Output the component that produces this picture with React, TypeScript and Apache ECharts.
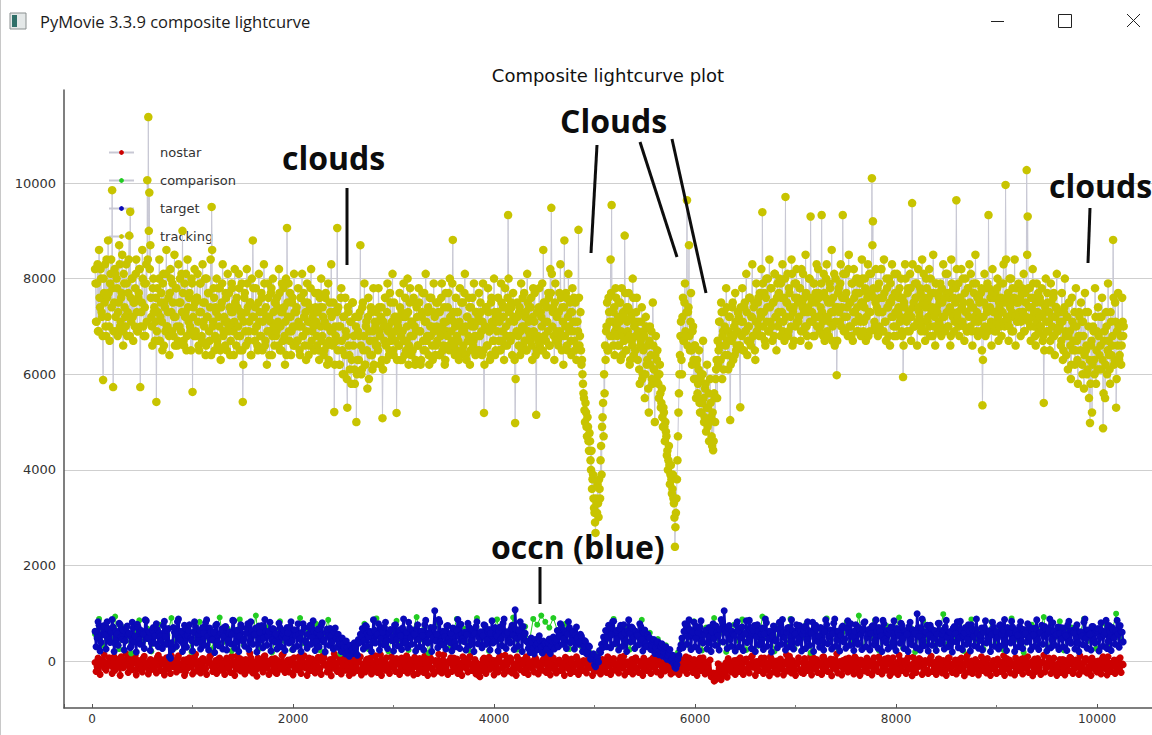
import React, { useEffect, useRef } from 'react';
import * as echarts from 'echarts';

// ---- data (frame numbers are evenly spaced) ----
// tracking star: readings at frames 30, 40, 50 ... and in-between readings at 35, 45, 55 ...
const trackingStartFrame = 30;
const trackingFrameStep = 10;
const tracking = [
  8200,7100,7900,6900,8600,7400,8000,7200,5880,7700,8300,6800,7600,8800,7000,7900,8400,9850,5730,7500,
  8100,6900,7800,7300,8700,7000,7600,8500,6600,7900,7200,8300,6800,7700,8900,9400,7100,8000,6700,7500,
  7800,8400,6900,7600,8200,5730,7300,8600,7000,7900,6800,8300,10060,11380,9800,8700,7200,6600,8000,7400,
  7100,5420,7800,6700,8400,7200,7700,6500,8100,7500,6900,8600,7000,7600,6400,8200,7300,7900,6800,8500,
  7200,7800,6600,8300,7000,7500,8100,9000,6700,7900,7300,6500,8400,7100,7700,6900,8000,5630,7400,8200,
  6900,7600,8100,6600,7300,7900,6800,8300,7100,7500,6400,8000,7200,7700,6700,8400,9500,7000,7800,6500,
  7400,8000,6600,7200,7800,6300,7500,8300,6900,7100,7700,6500,8100,7000,7400,6700,7900,7300,6400,8200,
  7000,7600,6800,8100,6500,7300,7900,5420,7100,7700,6600,8200,7400,6900,7500,6400,8000,8800,7200,6700,
  7800,7000,6500,8100,7300,6800,7600,7100,8300,6600,7400,6200,7900,7200,6900,7700,6400,8000,7000,7500,
  6800,7600,7100,8200,6500,7300,7900,6700,7400,6200,8000,9060,7200,6900,7700,6400,7500,7000,8100,6600,
  7300,6700,7800,7000,6400,7600,8100,6800,7200,7500,6300,7900,7100,6600,7400,8200,6900,7300,6500,7700,
  7100,6600,7700,6300,7400,8000,6800,7200,6500,7600,7000,6200,7900,6700,7300,8300,6900,7500,5210,7000,
  6700,9060,7400,6200,7000,7800,6500,7200,6000,7600,6800,5300,7300,6400,7100,5800,7500,6600,6100,7200,
  5000,6300,7200,6800,8700,6000,7400,6500,7900,6200,7100,5700,7600,6900,6400,7300,6100,7800,6700,7000,
  7300,6600,7800,6900,6200,7400,5080,7100,6700,7600,6300,7900,7000,6500,7500,6800,8100,6400,7200,6700,
  5190,7100,6600,7700,6300,7300,6900,7900,6400,7200,6700,8000,6200,7500,6800,7100,6500,7600,7000,6300,
  7400,6600,7800,6900,6200,7200,7700,6500,7100,8100,6700,7300,6400,7600,6800,7000,6300,7900,7200,6600,
  7000,7500,6400,7300,6800,7900,6500,7100,6200,7700,6900,7400,6600,8000,7200,6700,8810,7100,6400,7600,
  6800,7300,6300,7800,7000,6500,7500,6900,8100,6400,7200,6700,7600,6200,7400,7000,6600,7900,6800,7300,
  7100,6500,7700,6800,7300,6400,7900,5190,7000,7400,6600,7800,6900,6300,7500,7100,6700,8000,6400,7200,
  6900,7600,6500,7200,7900,6700,7400,6300,7800,7000,6600,9330,7300,6800,7500,6400,7700,7100,4980,7200,
  7500,6800,7300,6400,7900,7000,6600,7700,7200,6500,8100,6900,7400,6700,7600,6300,7800,7100,6800,5150,
  7300,6700,7800,6500,7200,7900,8600,6800,7500,6400,7100,7700,6600,8200,9480,7000,7400,6300,7900,6900,
  7200,6600,7700,8300,6800,7400,6200,8800,7000,7600,6500,8100,6900,7300,6400,7800,7100,6700,7500,6300,
  7100,9020,6600,7300,6200,6000,5600,5250,5400,4900,5100,4600,4770,4200,4400,3800,3400,3100,2680,3300,
  3700,3010,3600,4200,3900,5100,4700,5600,6300,7000,6500,7600,7100,8400,9540,6800,7300,6400,7800,7000,
  6600,7500,7100,6300,7800,6800,7200,8900,6500,7400,6900,7700,6200,7300,6700,8000,6400,7100,6800,7600,
  6300,7100,5800,6700,7400,6000,6900,5500,7200,6200,6600,5200,7000,6400,5900,7500,6100,5000,6800,6300,
  6000,5500,6200,5300,5700,4900,5200,4600,4800,4300,4000,4500,3700,4100,3500,3900,3300,2390,3100,3800,
  4700,5600,6400,7100,6000,7600,6700,7900,6800,9640,7300,8700,6500,7700,6200,7000,5900,6600,5500,6300,
  5800,6500,5200,6000,5400,6700,5000,5700,4800,6200,5300,4600,5900,5100,4500,4410,5600,5000,6100,5500,
  6200,7100,6600,7500,5900,6900,7300,6400,7800,6700,6100,7200,5040,6800,7400,6300,7000,7700,6500,6900,
  7300,6600,5310,7100,7800,6500,7400,6900,8100,6400,7000,7600,6700,7200,8300,6800,7500,6300,7900,7100,
  7600,6800,7300,8200,9390,7000,7700,6600,8000,7400,6900,8400,7100,7800,6700,7500,8100,7200,6500,7900,
  7300,8000,6800,7600,8300,7100,6700,9710,7500,8100,6900,7700,7200,8400,6600,7400,7900,7000,8200,7600,
  7100,7800,6700,8200,7400,6900,7600,8500,7000,7300,6600,8000,9300,7500,7100,7900,6800,7700,8300,7200,
  7700,6900,7400,9330,7100,8100,6700,7600,8300,7200,6800,7900,7500,8600,7000,7300,6600,8000,5980,7400,
  7800,7100,8300,7400,9330,6900,7600,8100,7200,6800,8500,7500,7000,7900,6700,8200,7300,7700,6900,8000,
  7200,7900,6800,8400,7500,7100,8000,6700,7700,8300,7300,6900,8100,10100,9200,7600,7000,8200,7400,6800,
  7900,7300,8200,6900,7600,8400,7100,6700,7800,7400,8000,6600,7500,8300,7200,6800,7700,7000,8100,7300,
  7600,7100,8000,6800,5940,7500,8300,7200,6900,7800,7300,8100,6700,9580,7400,7000,7900,7600,6600,8200,
  7300,7800,6900,8400,7100,7600,6700,8000,7500,7200,8200,6800,7700,7400,8500,7000,6600,7900,7300,7700,
  7100,7900,6800,7500,8300,7200,6900,7700,8100,7000,7600,6600,8400,7300,7800,6900,7500,9640,7200,7900,
  6800,7600,8200,7100,7500,6700,8000,7300,6900,7800,8300,7000,7400,6600,7900,7200,8500,6900,7600,7100,
  7500,6900,7800,5350,7200,8100,6800,7400,7900,9330,7000,7600,6600,8200,7300,6900,7700,7100,8000,6700,
  7400,7900,6800,7300,8300,7000,9960,7600,7100,6700,8000,7500,6900,7800,7200,8400,6600,7500,7100,7900,
  7200,6800,7700,7300,8100,6900,7500,10270,9300,7100,7800,6700,7400,8200,7000,7600,6600,7900,7300,6900,
  7600,7000,7800,6700,5400,7300,8000,6900,7500,7100,6500,7900,7200,6800,7700,6400,7400,8100,6900,7300,
  7100,6600,7700,6300,7300,8000,6800,7200,6100,7500,6900,5900,7600,6500,7000,6200,7800,6700,5800,7300,
  6800,7500,6200,7100,5700,7700,6500,6000,7300,5500,4980,6600,5200,7000,6300,7800,5800,6900,7400,6100,
  7200,6100,7600,4870,6700,5500,7300,6000,7900,6400,5800,7100,6600,8810,6200,7500,5300,6900,7700,6300,
  7000,6200,7600,6800,
];
const trackingMidStartFrame = 35;
const trackingMid = [
  7900,7100,8300,6900,7600,8200,7300,6800,8000,7500,7000,8400,7200,7700,6700,8100,7400,7800,6900,8200,
  7200,8000,6800,7500,8300,7100,7700,6900,8100,7400,7000,7900,7300,8400,6800,7600,8000,7200,7500,7000,
  8100,7300,6900,7700,8200,7000,7500,8000,6800,7400,7900,7100,8400,9000,8200,7600,7000,7800,7300,6700,
  7600,6900,7300,8000,6700,7500,7100,7900,6600,7400,8100,7000,7300,6800,7700,8000,6900,7500,7200,6600,
  7800,7000,6700,7500,8000,6900,7300,7700,6600,7200,8100,6800,7400,7600,7000,6500,7900,7200,6800,7500,
  6800,7600,7100,6500,7900,7300,6700,7500,7000,8000,6600,7200,7700,6900,7400,6400,8600,7100,7600,6800,
  7300,6700,7800,7000,6500,7400,7900,6800,7200,6600,7600,7100,6900,7700,6400,7300,7800,6900,7100,7500,
  6600,7400,7000,7800,6800,7200,6500,6200,7600,6900,7300,7900,6700,7100,7500,6400,7200,7800,6900,7400,
  7000,6600,7500,7100,6800,7700,6500,7300,7900,6700,7200,6900,7600,6400,7100,7800,6800,7300,6600,7500,
  6900,7400,6600,7700,7000,6500,7300,7800,6800,7100,6400,7500,7900,6700,7200,6900,7600,6600,7300,7000,
  7400,6700,7100,6500,7600,7000,6800,7700,6600,7300,6900,7500,6400,7100,7800,6700,7200,7000,6500,7400,
  6800,7300,6500,7600,7000,6700,7400,6400,7100,7700,6600,7000,6300,7500,6900,7200,6600,7300,6200,6800,
  7300,6500,7000,6200,7600,6700,6000,7200,6400,6900,5900,7400,6600,6100,7100,6300,7500,6800,5800,7000,
  6000,6900,6300,7300,6600,6100,7500,6800,6200,7000,6500,7200,5900,6700,7400,6400,6900,6200,7100,6600,
  7100,6500,7400,6800,7200,6300,6100,7000,7600,6600,7300,6900,6400,7700,6700,7100,6500,7500,6900,7200,
  6300,7000,6600,7400,6800,6300,7200,6700,7600,6500,7000,7300,6600,7800,6400,7100,6800,7500,6200,6900,
  7200,6600,7500,6900,6300,7300,6700,7700,6500,7100,6800,7400,6200,7000,7600,6600,7300,6900,6400,7500,
  6700,7300,6900,6400,7600,7000,6600,7400,6300,7100,6800,7700,6500,7200,6900,7900,7300,6600,7000,6500,
  7300,6700,7100,6400,7500,6900,6600,7700,7000,6300,7200,6800,7400,6500,7100,7600,6700,7000,6400,7300,
  6800,7200,6500,7500,6900,7100,6500,6200,7000,7400,6600,7300,6900,6400,7600,7000,6700,7300,6500,7100,
  7300,6700,7100,6500,7500,6900,7200,6600,7400,6800,7600,8000,7100,6700,7400,6800,7200,6300,5900,6900,
  7200,6600,7400,6900,6500,7600,7000,6700,7300,6500,7500,7100,6800,7400,6600,7200,6900,7700,6400,6500,
  6800,7400,6600,7300,7000,6500,7500,7100,6700,7400,6900,7600,6600,7700,8100,7300,6800,7500,6700,7200,
  6700,7300,6900,7600,6500,7100,7400,6800,7700,6600,7200,7000,7500,6700,7300,6900,7600,6500,7100,6600,
  6900,7600,6800,6500,6300,5800,5500,5000,5200,4700,4900,4400,4600,4000,3600,3900,3200,2900,3400,3100,
  3300,3800,3400,4500,4900,5400,6000,6600,6900,7500,6500,7300,6800,7700,7100,6600,7400,6900,7600,6800,
  7200,6600,7500,6900,6400,7300,6700,7700,6500,7100,7400,6800,6300,7200,6600,7600,7000,6500,7300,6800,
  6900,6100,6600,7100,5900,6500,6800,6000,7000,6300,5700,6700,6200,6900,5800,6600,6100,6400,5900,6500,
  5800,6000,5600,5400,5100,5300,4900,5000,4700,4400,4200,4100,3900,3800,3600,3400,3000,2800,3400,4200,
  5200,6000,6800,6300,7200,6700,7500,6900,7300,6600,7400,6800,7100,6500,6900,6300,6600,5900,6200,5600,
  6100,5400,5900,5200,6000,5500,5100,5800,5300,4900,5600,5000,5400,4700,5200,4600,5500,5900,6300,6700,
  6500,7100,6300,7300,6800,6100,7000,6600,7400,6400,6900,7200,6200,6700,7500,6800,6400,7100,6600,7300,
  7200,6600,7400,6800,7100,6500,7500,6900,7300,6700,7000,7600,6600,7200,6800,7400,6500,7100,6900,7500,
  7000,7700,7200,6800,7900,7300,6700,7600,7100,8000,6900,7400,7800,7000,7500,6800,8100,7200,7600,7000,
  7700,7100,7900,7300,6900,7600,8000,7200,7500,6800,7800,7400,7000,8100,7300,6700,7600,7900,7100,7500,
  7200,7800,6900,7500,8100,7300,7000,7700,6800,7400,8000,7100,7600,7300,6800,7900,7200,7500,7000,8200,
  7600,7000,7900,7300,6800,7700,7200,8000,6900,7500,7100,7800,7300,6700,7600,8100,7100,7400,6700,7700,
  7300,7900,7000,7600,8100,7200,6900,7700,7400,8200,7000,7500,6800,7900,7300,7600,7100,8000,7400,6900,
  7700,7100,7500,8000,6900,7400,7800,7200,7600,6800,8100,7300,7700,8700,7800,7100,7500,6900,7800,7300,
  7000,7600,8200,7300,6900,7700,7100,8000,7400,6800,7500,7900,7200,7600,7000,8100,7300,6800,7700,7400,
  7800,7200,6900,7600,6600,7400,8000,7100,7700,7300,6900,7800,7200,8300,7500,7000,7600,7900,7100,7400,
  7200,7700,7000,7500,8100,6900,7400,7800,7100,7600,7000,8000,7300,6800,7700,7200,7900,7400,6900,7600,
  7500,7000,7800,7200,6900,7600,8100,7300,7000,7700,7400,6800,7900,7200,7600,7100,7800,8200,7300,7000,
  7600,7100,7400,8000,7000,7700,7300,6900,7800,7200,7500,8100,6900,7400,7700,7100,7900,7300,6800,7600,
  7200,7700,6500,6300,7500,7000,7800,7300,6900,7800,7400,7100,7700,7000,7600,7300,6900,7800,7200,7500,
  7000,7600,7300,7900,7100,7500,8400,7200,7700,7000,7400,8000,7300,6900,7600,7200,7800,7100,7500,7300,
  7600,7100,7800,7300,6900,7700,7200,8500,7800,7400,7000,7600,7200,7900,7300,6800,7500,7100,7700,7200,
  7000,7500,7200,6800,6500,7400,7100,7700,6900,7300,6700,7500,7000,7600,6800,7200,7400,6900,7300,7000,
  7300,6700,7100,6500,7400,6900,6400,7200,6800,7500,6600,6200,7100,6700,7300,6500,7000,6300,6800,7200,
  6500,7100,6000,6800,6400,7300,6600,6100,7000,6300,5800,6700,6200,6900,6000,7200,6500,6100,6800,6400,
  6600,7200,6300,5600,6900,6200,7000,6500,6700,6100,7300,6400,6800,7600,6300,7100,5900,6600,7000,6400,
  6800,6600,7100,7000,
];

// target star: readings at frames 30, 50, 70 ... and at 40, 60, 80 ...
const targetStartFrame = 30;
const targetFrameStep = 20;
const target = [
  620,480,750,390,680,540,820,450,600,710,360,570,790,500,650,420,730,580,310,690,520,770,440,640,560,860,470,610,380,700,530,660,
  590,420,740,510,650,90,380,700,560,820,460,620,350,680,540,760,430,600,710,490,640,370,580,800,520,690,450,610,740,400,560,670,
  500,720,430,610,560,840,390,650,520,700,460,580,780,410,630,550,690,360,600,740,480,620,530,810,440,660,570,380,700,510,640,470,
  590,710,420,650,530,780,460,600,690,380,560,750,490,620,410,670,540,800,450,590,520,680,400,610,470,560,350,480,280,420,200,330,
  250,380,150,450,560,680,430,720,510,600,390,650,540,780,470,610,700,420,580,660,500,750,440,620,530,690,370,600,810,480,640,560,
  680,450,610,530,760,420,590,700,480,1050,560,870,400,620,510,730,460,580,690,390,640,520,770,470,600,550,710,430,660,580,820,490,
  610,530,740,440,660,580,380,700,520,640,460,790,560,610,420,680,540,1070,470,630,510,720,580,400,330,480,260,450,370,530,300,420,
  380,250,460,320,500,410,640,520,730,460,600,560,700,430,620,540,480,390,520,300,410,200,300,60,150,-120,80,220,350,500,640,480,
  720,550,830,610,470,680,540,760,420,640,580,710,490,620,530,780,450,600,370,560,480,330,450,290,400,220,360,190,300,120,240,60,
  -60,-150,40,250,480,620,740,510,660,550,810,470,600,700,430,580,650,380,520,610,470,730,540,660,820,1050,590,690,450,620,540,760,
  630,480,710,560,840,420,650,590,740,500,620,380,690,570,800,460,610,530,720,440,660,580,870,490,600,700,410,640,550,760,470,620,
  560,720,450,640,590,810,480,670,530,700,420,610,760,500,650,570,880,440,620,540,730,460,680,590,780,510,630,400,700,560,650,820,
  490,660,580,740,430,620,700,520,850,460,640,570,710,400,600,680,530,790,470,630,560,720,440,650,590,990,510,690,420,610,750,540,
  680,470,620,560,790,440,650,710,500,610,380,690,570,820,480,640,530,700,450,620,760,510,660,580,430,690,600,840,470,630,550,710,
  620,480,740,560,650,420,700,590,830,460,610,540,720,400,660,580,780,490,630,550,690,440,600,750,520,670,570,880,450,620,530,710,
  580,460,690,530,760,420,640,590,700,380,610,520,810,470,650,560,720,440,600,680,490,630,550,850,410,620,700,480,640,560,740,600,
];
const targetMidStartFrame = 40;
const targetMid = [
  300,820,210,560,740,250,680,390,870,200,620,330,760,450,230,690,540,280,810,400,190,700,350,590,260,840,480,220,650,370,780,300,
  520,260,830,350,680,60,240,600,310,880,420,200,750,290,640,470,210,820,380,560,250,700,330,860,230,610,440,180,770,320,590,250,
  710,230,580,360,850,270,640,200,760,420,310,690,240,820,350,560,190,730,450,280,870,330,620,210,680,400,250,790,300,570,220,700,
  380,820,240,650,310,560,200,780,430,270,710,350,840,220,600,300,740,410,190,670,330,520,250,690,290,450,200,360,150,280,100,220,
  160,300,120,380,520,250,740,310,620,200,860,380,560,230,700,340,810,260,590,430,210,760,320,650,240,880,400,280,690,350,570,210,
  760,300,620,230,850,380,550,200,700,420,280,810,340,600,250,740,390,210,680,300,870,260,560,410,230,790,330,640,200,720,360,590,
  280,760,350,620,230,840,400,560,210,710,320,880,260,600,380,750,240,660,310,820,200,540,420,260,180,390,150,330,240,420,170,350,
  230,380,160,410,250,450,300,780,350,640,260,820,380,600,250,710,350,560,200,430,150,320,40,100,-80,0,-20,180,280,420,300,750,
  280,820,360,640,230,750,310,590,200,860,400,680,260,560,340,720,210,650,300,490,240,420,160,380,130,300,100,250,40,180,0,120,
  -130,-80,120,340,280,780,350,860,240,600,300,720,220,840,380,560,250,700,200,780,330,600,230,870,400,650,260,740,310,560,210,820,
  300,700,220,580,390,850,260,640,200,760,340,560,240,880,310,620,190,730,420,280,810,350,600,230,690,300,860,250,570,380,740,210,
  640,260,820,330,580,200,750,410,290,680,230,860,360,540,250,790,310,620,210,700,400,270,840,330,590,220,760,350,640,240,800,300,
  580,230,720,340,860,270,610,200,780,390,250,660,310,840,220,590,370,740,260,630,200,810,340,560,280,700,230,880,320,600,210,750,
  330,640,220,790,360,560,250,850,300,610,190,720,400,280,830,240,590,350,760,210,660,320,880,270,540,230,700,380,620,200,810,310,
  600,250,760,330,870,220,580,380,710,200,640,300,820,260,550,400,740,230,680,310,860,240,590,350,720,210,630,280,800,330,560,240,
  700,300,580,220,830,370,640,250,760,200,600,340,880,270,560,230,720,380,640,210,800,310,590,260,740,220,660,350,850,290,610,400,
];

// no-star background: readings at frames 30, 50 ... and at 40, 60 ...
const nostarStartFrame = 30;
const nostarFrameStep = 20;
const nostar = [
  -30,-120,40,-80,10,-160,-50,70,-100,-20,-190,30,-70,90,-140,-10,-60,50,-110,-40,120,-170,0,-90,60,-130,-30,-210,20,-80,-50,80,
  -100,30,-60,-180,10,-40,110,-120,-20,50,-150,-70,20,-230,-10,70,-90,-50,140,-130,0,-80,40,-160,-30,90,-110,-60,10,-200,60,-40,
  -70,20,-140,-30,100,-90,-10,-170,50,-60,-120,30,-40,160,-100,-20,-190,60,-80,-30,90,-150,0,-60,40,-110,-250,10,-70,120,-40,-130,
  20,-90,-30,70,-160,-50,10,-120,110,-70,-20,-200,40,-100,-40,80,-140,-10,60,-80,-180,30,-60,150,-110,-30,0,-150,50,-90,-20,-240,
  -60,40,-130,-20,90,-170,-50,20,-100,60,-80,-210,10,-40,130,-120,-30,70,-160,-70,0,-110,50,-50,-190,30,-90,110,-140,-10,-60,80,
  -120,10,-70,-30,100,-150,-40,50,-190,-10,-80,140,-110,20,-60,-220,0,70,-100,-30,40,-170,-50,90,-130,-20,60,-80,-160,30,-40,-310,
  -70,30,-140,-20,80,-100,-50,10,-180,60,-30,-120,120,-80,-10,40,-160,-60,90,-110,-30,20,-200,50,-70,-130,0,70,-90,-40,-170,30,
  -50,110,-140,-20,60,-100,-60,20,-180,-30,80,-120,-10,40,-160,-70,30,-90,-200,10,-50,-140,-20,-100,40,-180,-60,-120,20,-80,-30,90,
  -110,-30,50,-160,-60,20,-120,100,-80,-20,-190,30,-50,70,-140,-10,-90,60,-170,-40,10,-110,-60,-210,40,-80,-30,-150,0,-100,-50,-230,
  -60,-170,-20,40,-110,-50,90,-140,-10,-80,30,-190,-40,60,-120,0,-70,-160,20,-300,-420,-250,-60,-360,-100,-280,-30,50,-130,-70,10,-180,
  -40,70,-120,-20,40,-170,-60,110,-90,-10,-200,20,-70,60,-140,-30,90,-100,-50,0,-180,40,-80,-20,130,-150,-60,10,-110,-40,70,-190,
  -30,50,-130,-70,100,-10,-160,30,-90,-50,80,-200,0,-60,40,-120,-20,150,-100,-40,10,-170,-80,60,-130,-10,90,-60,-220,20,-90,-30,
  60,-110,-40,20,-180,-70,90,-20,-140,40,-60,-10,-200,70,-90,-30,120,-150,0,-50,30,-120,-80,80,-170,-20,50,-100,-60,10,-190,-40,
  100,-80,-20,-150,40,-60,10,-210,-30,70,-110,-50,20,-170,-10,60,-90,-40,130,-130,0,-70,30,-190,-50,90,-100,-20,50,-160,-60,10,
  -120,40,-70,-20,110,-150,-40,20,-100,-60,70,-180,-10,40,-130,-50,90,-90,-30,10,-220,50,-70,-20,120,-140,-40,0,-110,60,-80,-170,
  30,-60,-130,10,-90,80,-40,-180,20,-70,110,-120,-30,50,-160,-10,60,-100,-50,0,-200,40,-80,-20,90,-140,-50,20,-110,-30,70,-60,
];
const nostarMidStartFrame = 40;
const nostarMid = [
  -220,60,-280,-40,130,-190,-90,20,-260,90,-150,-20,-300,40,-110,150,-240,-60,-180,70,-290,10,-130,-230,100,-80,-270,30,-170,-10,-250,120,
  -200,-40,-290,70,-150,-260,20,-110,-230,110,-180,-60,-300,30,-140,-20,-270,80,-210,-100,-250,50,-160,-280,-30,120,-220,-120,-260,40,-190,-70,
  -280,60,-170,-240,-30,-300,100,-130,-210,20,-270,-80,-190,70,-250,-40,-320,30,-150,-230,110,-110,-280,-10,-200,50,-260,-90,-170,140,-240,-50,
  -230,30,-290,-70,-180,90,-260,-20,-140,-300,60,-200,-110,-250,10,-170,-280,120,-90,-230,-40,-310,40,-160,-220,80,-270,-60,-190,-10,-300,20,
  -250,-30,-200,70,-290,-120,-230,40,-170,-270,-50,110,-240,-140,-300,20,-190,-80,-260,90,-150,-220,-10,-280,60,-200,-110,-250,30,-170,-290,-40,
  -260,50,-180,-240,-20,-300,80,-150,-270,10,-210,-90,-250,130,-160,-280,-30,-220,60,-190,-260,-70,-300,20,-140,-230,100,-200,-50,-270,-120,-330,
  -200,60,-260,-90,-170,20,-290,-40,-230,110,-150,-270,-10,-210,70,-250,-130,-300,40,-180,-60,-240,90,-280,-20,-160,-230,30,-270,-100,-190,50,
  -240,-20,-290,70,-170,-250,10,-200,-120,-300,50,-160,-260,-40,-220,90,-280,-70,-190,-10,-250,40,-140,-300,-60,-210,-110,-270,30,-180,-240,60,
  -280,30,-190,-60,-250,80,-150,-290,-20,-220,-110,-270,50,-170,-240,-40,-300,20,-200,-90,-260,60,-140,-230,-10,-290,-70,-210,40,-180,-270,-120,
  -230,-120,-280,30,-190,-50,-260,60,-150,-240,10,-300,-80,-200,70,-270,-30,-220,-330,-250,-400,-310,-150,-390,-260,-200,-340,-40,-230,-100,-280,20,
  -220,-70,-280,30,-170,-250,80,-130,-300,-20,-200,60,-260,-90,-180,-310,40,-230,-120,-270,10,-160,-290,-50,-210,100,-250,-140,-300,-30,-190,-240,
  -260,20,-200,-100,-290,60,-150,-240,-30,-280,90,-180,-220,-60,-310,30,-170,-250,-10,-290,-130,40,-230,-200,-80,-270,50,-160,-300,-20,-210,-110,
  -240,-30,-290,70,-160,-220,10,-270,-110,-190,60,-300,-50,-230,-140,-280,20,-200,-90,-260,80,-170,-310,-40,-240,-120,30,-280,-70,-210,-260,50,
  -220,-110,-280,40,-190,-250,-20,-300,60,-160,-240,-80,-270,20,-200,-130,-310,70,-230,-50,-260,-150,-10,-290,-90,-200,30,-250,-140,-300,-40,-180,
  -260,-10,-220,-130,-300,50,-180,-250,-60,-290,20,-200,-110,-270,80,-160,-240,-30,-310,40,-190,-90,-280,-20,-230,-140,60,-260,-70,-210,-300,-50,
  -240,30,-290,-100,-200,60,-260,-150,-20,-280,-70,-210,40,-250,-120,-300,10,-180,-230,-60,-270,90,-160,-290,-40,-220,-110,-260,20,-190,-240,-80,
];

const comparisonStartFrame = 30;
const comparisonFrameStep = 40;
const comparison = [
  560,880,320,640,470,930,250,700,520,160,610,850,410,680,200,590,760,350,540,900,280,630,480,720,190,570,820,430,650,240,590,910,
  400,680,210,560,870,330,620,490,950,260,600,710,180,540,830,420,660,230,590,900,370,640,510,780,220,580,860,300,470,150,380,260,
  180,330,470,780,250,600,890,420,660,200,570,840,380,640,230,610,920,450,700,170,560,810,340,630,260,590,880,410,680,220,540,900,
  460,650,210,580,870,330,620,500,910,240,590,720,380,880,760,950,820,700,900,640,520,780,250,600,420,300,350,180,100,150,260,420,
  610,880,330,570,720,240,640,510,860,300,590,380,460,250,330,150,60,180,420,650,300,830,560,220,700,470,900,350,610,190,560,760,
  420,870,230,590,660,320,930,480,610,200,750,540,380,880,260,620,510,790,170,580,700,340,890,450,630,240,600,820,390,560,950,280,
  640,480,850,220,580,730,360,620,910,270,550,690,190,600,840,410,670,300,580,980,350,620,500,760,210,590,870,430,640,250,560,820,
  380,660,230,600,890,450,620,180,570,760,330,640,920,280,590,510,830,220,610,700,370,560,880,420,640,260,580,790,340,610,990,470,
];

const legendNames = ['nostar', 'comparison', 'target', 'tracking'];
const xTicks = [0, 2000, 4000, 6000, 8000, 10000];
const yTicks = [0, 2000, 4000, 6000, 8000, 10000];

const windowTitle = 'PyMovie 3.3.9 composite lightcurve';
const plotTitle = 'Composite lightcurve plot';

function toPairs(values: number[], start: number, step: number) {
  return values.map((v, i) => [start + i * step, v]);
}
function merged(a: number[][], b: number[][]) {
  return [...a, ...b].sort((p, q) => p[0] - q[0]);
}

const FONT = '"DejaVu Sans", sans-serif';
const BOLD = '"Open Sans", "Noto Sans", sans-serif';
const PEN = '#c8c8d4';

export default function App() {
  const ref = useRef<HTMLDivElement>(null);

  useEffect(() => {
    if (!ref.current) return;
    const chart = echarts.init(ref.current, undefined, { renderer: 'svg' });

    const base = {
      type: 'line',
      symbol: 'circle',
      showSymbol: true,
      silent: true,
      animation: false,
      emphasis: { disabled: true },
    };

    const annText = (text: string, x: number, y: number) => ({
      type: 'text',
      x,
      y,
      z: 100,
      style: {
        text,
        fontFamily: BOLD,
        fontWeight: 'bold',
        fontSize: 32,
        fill: '#0d0d0d',
        textAlign: 'left',
        textVerticalAlign: 'middle',
      },
    });
    const annLine = (x1: number, y1: number, x2: number, y2: number) => ({
      type: 'line',
      z: 100,
      shape: { x1, y1, x2, y2 },
      style: { stroke: '#0d0d0d', lineWidth: 3 },
    });

    chart.setOption({
      animation: false,
      backgroundColor: '#ffffff',
      grid: { left: 64, right: 0, top: 90, bottom: 27, containLabel: false },
      xAxis: {
        type: 'value',
        min: -279,
        max: 10547,
        splitNumber: 5,
        axisLine: { onZero: false, lineStyle: { color: '#555', width: 1.5 } },
        axisTick: { show: true, inside: true, length: 4, lineStyle: { color: '#555' } },
        minorTick: { show: true, splitNumber: 2, length: 3, lineStyle: { color: '#777' } },
        splitLine: { show: false },
        axisLabel: {
          showMinLabel: false,
          showMaxLabel: false,
          margin: 5,
          fontFamily: FONT,
          fontSize: 12,
          color: '#333',
          formatter: (v: number) => (xTicks.includes(v) ? String(v) : ''),
        },
      },
      yAxis: {
        type: 'value',
        min: -983,
        max: 11946,
        splitNumber: 6,
        axisLine: { show: true, onZero: false, lineStyle: { color: '#555', width: 1.5 } },
        axisTick: { show: false },
        splitLine: { show: true, showMinLine: false, showMaxLine: false, lineStyle: { color: '#cfcfcf', width: 1 } },
        axisLabel: {
          showMinLabel: false,
          showMaxLabel: false,
          margin: 8,
          fontFamily: FONT,
          fontSize: 13,
          color: '#333',
          formatter: (v: number) => (yTicks.includes(v) ? String(v) : ''),
        },
      },
      legend: {
        orient: 'vertical',
        left: 103,
        top: 141,
        itemWidth: 25,
        itemHeight: 6,
        itemGap: 15,
        z: 1,
        selectedMode: false,
        lineStyle: { color: PEN, width: 2 },
        textStyle: { fontFamily: FONT, fontSize: 13, color: '#333', padding: [0, 0, 0, 21] },
        data: legendNames,
      },
      series: [
        {
          ...base,
          name: 'nostar',
          z: 2,
          data: merged(toPairs(nostar, nostarStartFrame, nostarFrameStep), toPairs(nostarMid, nostarMidStartFrame, nostarFrameStep)),
          symbolSize: 7,
          itemStyle: { color: '#cc0000' },
          lineStyle: { color: '#cc0000', width: 2.5 },
        },
        {
          ...base,
          name: 'comparison',
          z: 3,
          data: toPairs(comparison, comparisonStartFrame, comparisonFrameStep),
          symbolSize: 6,
          itemStyle: { color: '#22cc22' },
          lineStyle: { color: '#22cc22', width: 1 },
        },
        {
          ...base,
          name: 'target',
          z: 4,
          data: merged(toPairs(target, targetStartFrame, targetFrameStep), toPairs(targetMid, targetMidStartFrame, targetFrameStep)),
          symbolSize: 7,
          itemStyle: { color: '#0a0ab8' },
          lineStyle: { color: '#0a0ab8', width: 2.5 },
        },
        {
          ...base,
          name: 'tracking',
          z: 5,
          data: merged(toPairs(tracking, trackingStartFrame, trackingFrameStep), toPairs(trackingMid, trackingMidStartFrame, trackingFrameStep)),
          symbolSize: 8.5,
          itemStyle: { color: '#c8c400' },
          lineStyle: { color: PEN, width: 1 },
        },
      ],
      graphic: {
        elements: [
          { type: 'rect', z: 100, shape: { x: 0, y: 0, width: 1, height: 735 }, style: { fill: '#c8c8c8' } },
          { type: 'rect', z: 100, shape: { x: 10, y: 13, width: 16, height: 16 }, style: { fill: '#e4e8e8', stroke: '#8a9090', lineWidth: 1 } },
          { type: 'rect', z: 100, shape: { x: 12, y: 15, width: 5, height: 12 }, style: { fill: '#2f6f68' } },
          {
            type: 'text', x: 40, y: 21, z: 100,
            style: { text: windowTitle, fontFamily: '"Open Sans", sans-serif', fontSize: 16.5, fill: '#1a1a1a', textAlign: 'left', textVerticalAlign: 'middle' },
          },
          { type: 'line', z: 100, shape: { x1: 991, y1: 21.5, x2: 1004, y2: 21.5 }, style: { stroke: '#222', lineWidth: 1 } },
          { type: 'rect', z: 100, shape: { x: 1058.5, y: 14.5, width: 13, height: 13 }, style: { fill: 'none', stroke: '#222', lineWidth: 1 } },
          { type: 'line', z: 100, shape: { x1: 1127, y1: 14, x2: 1140, y2: 27 }, style: { stroke: '#222', lineWidth: 1 } },
          { type: 'line', z: 100, shape: { x1: 1140, y1: 14, x2: 1127, y2: 27 }, style: { stroke: '#222', lineWidth: 1 } },
          {
            type: 'text', x: 608, y: 75, z: 100,
            style: { text: plotTitle, fontFamily: FONT, fontSize: 18, fill: '#111', textAlign: 'center', textVerticalAlign: 'middle' },
          },
          annText('clouds', 282, 157),
          annLine(347, 188, 347, 265),
          annText('Clouds', 560, 120),
          annLine(597, 145, 591, 253),
          annLine(640, 142, 677, 257),
          annLine(672, 139, 706, 293),
          annText('clouds', 1049, 185),
          annLine(1090, 208, 1088, 263),
          annText('occn (blue)', 491, 546),
          annLine(540, 567, 540, 604),
        ],
      },
    });

    return () => chart.dispose();
  }, []);

  return (
    <div
      ref={ref}
      style={{ position: 'absolute', left: 0, top: 0, width: 1152, height: 735, background: '#fff' }}
    />
  );
}
